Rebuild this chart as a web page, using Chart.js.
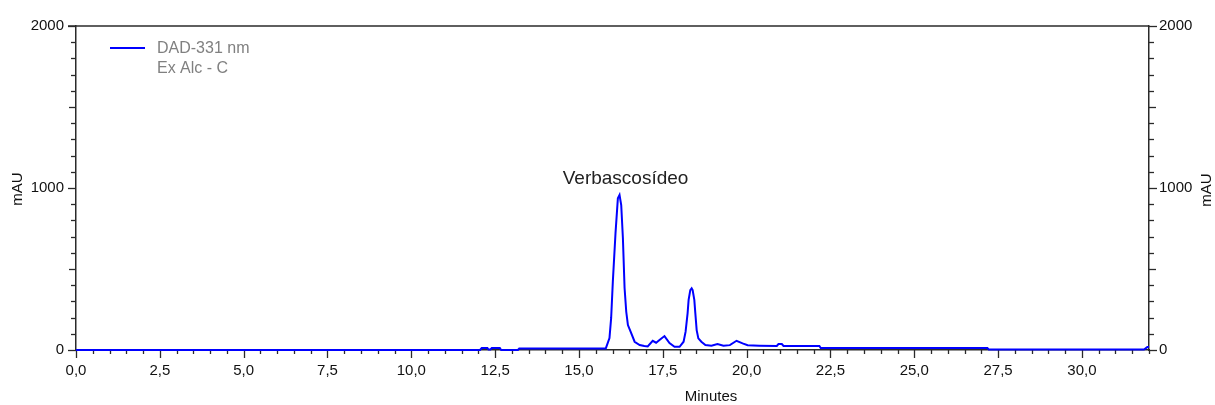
<!DOCTYPE html>
<html>
<head>
<meta charset="utf-8">
<script src="https://cdn.jsdelivr.net/npm/chart.js@4/dist/chart.umd.min.js"></script>
<style>
  html, body { margin: 0; padding: 0; background: #ffffff; }
  #c { display: block; }
</style>
</head>
<body>
<canvas id="c" width="1215" height="405"></canvas>
<script>
// ---- data ----
const times = [0, 12.05, 12.1, 12.27, 12.3, 12.36, 12.4, 12.64, 12.68, 13.18, 13.22, 15.8, 15.91, 15.96, 16.01, 16.09, 16.16, 16.21, 16.26, 16.31, 16.36, 16.41, 16.46, 16.54, 16.66, 16.81, 16.95, 17.05, 17.2, 17.3, 17.42, 17.55, 17.7, 17.85, 18.0, 18.12, 18.18, 18.24, 18.27, 18.32, 18.36, 18.39, 18.44, 18.47, 18.51, 18.56, 18.65, 18.77, 18.95, 19.13, 19.31, 19.5, 19.7, 19.88, 20.03, 20.38, 20.9, 20.95, 21.05, 21.1, 22.17, 22.21, 27.18, 27.22, 31.85, 31.95, 32];
const mAU = [0, 0, 12, 12, 3, 3, 12, 12, 0, 0, 10, 10, 74, 198, 422, 722, 936, 957, 895, 691, 383, 236, 154, 113, 51, 31, 25, 22, 57, 45, 65, 86, 43, 20, 20, 51, 113, 228, 309, 370, 381, 370, 309, 228, 123, 72, 51, 31, 27, 37, 27, 30, 57, 41, 29, 27, 25, 37, 37, 25, 25, 12, 12, 3, 3, 18, 18];
const seriesName = "DAD-331 nm";
const sampleName = "Ex Alc - C";
const peakLabel = "Verbascosídeo";
const peakTime = 16.21;
const peakValue = 957;
const xTitle = "Minutes";
const yTitle = "mAU";
const xRange = [0, 32];
const yRange = [0, 2000];
const xMajorStep = 2.5, xMinorStep = 0.5;
const yMajorStep = 1000, yMinorStep = 100;

const points = times.map((t, i) => ({ x: t, y: mAU[i] }));

const FONT = "'Liberation Sans', Arial, sans-serif";
const AXIS_COLOR = '#2a2a2a';
const TEXT_COLOR = '#111111';

function isMult(v, step) {
  const r = v / step;
  return Math.abs(r - Math.round(r)) < 1e-6;
}

const ticksPlugin = {
  id: 'tickMarks',
  beforeDatasetsDraw(chart) {
    const ctx = chart.ctx;
    const ca = chart.chartArea;
    ctx.save();
    ctx.strokeStyle = AXIS_COLOR;
    ctx.lineWidth = 1.5;
    // top frame line
    ctx.beginPath();
    ctx.moveTo(ca.left - 8, ca.top);
    ctx.lineTo(ca.right, ca.top);
    ctx.stroke();
    ctx.lineWidth = 1.3;
    // x ticks
    const xs = chart.scales.x;
    xs.ticks.forEach(t => {
      const px = Math.round(xs.getPixelForValue(t.value)) + 0.5;
      const len = isMult(t.value, xMajorStep) ? 8 : 4;
      ctx.beginPath();
      ctx.moveTo(px, ca.bottom);
      ctx.lineTo(px, ca.bottom + len);
      ctx.stroke();
    });
    // y ticks left & right
    ['y', 'y2'].forEach(id => {
      const s = chart.scales[id];
      s.ticks.forEach(t => {
        const py = Math.round(s.getPixelForValue(t.value)) + 0.5;
        const len = isMult(t.value, yMajorStep) ? 8 : (isMult(t.value, 500) ? 7 : 5);
        ctx.beginPath();
        if (id === 'y') { ctx.moveTo(ca.left - len, py); ctx.lineTo(ca.left, py); }
        else { ctx.moveTo(ca.right, py); ctx.lineTo(ca.right + len, py); }
        ctx.stroke();
      });
    });
    ctx.restore();
  }
};

const textPlugin = {
  id: 'texts',
  afterDraw(chart) {
    const ctx = chart.ctx;
    const ca = chart.chartArea;
    const xs = chart.scales.x, ys = chart.scales.y;
    ctx.save();
    // legend
    ctx.strokeStyle = '#0000ff';
    ctx.lineWidth = 2;
    ctx.beginPath();
    ctx.moveTo(ca.left + 34, ca.top + 22);
    ctx.lineTo(ca.left + 69, ca.top + 22);
    ctx.stroke();
    ctx.fillStyle = '#808080';
    ctx.font = '16px ' + FONT;
    ctx.textAlign = 'left';
    ctx.textBaseline = 'middle';
    ctx.fillText(seriesName, ca.left + 81, ca.top + 23);
    ctx.fillText(sampleName, ca.left + 81, ca.top + 43);
    // peak annotation
    ctx.fillStyle = '#222222';
    ctx.font = '19px ' + FONT;
    ctx.textAlign = 'center';
    ctx.fillText(peakLabel, xs.getPixelForValue(peakTime) + 6, ys.getPixelForValue(peakValue) - 16);
    // axis titles
    ctx.fillStyle = TEXT_COLOR;
    ctx.font = '15px ' + FONT;
    ctx.fillText(xTitle, 711, 397);
    const midY = (ca.top + ca.bottom) / 2 + 1;
    [[18, midY], [1207, midY + 1]].forEach(([x, y]) => {
      ctx.save();
      ctx.translate(x, y);
      ctx.rotate(-Math.PI / 2);
      ctx.fillText(yTitle, 0, 0);
      ctx.restore();
    });
    ctx.restore();
  }
};

const tickFont = { family: FONT, size: 15 };

new Chart(document.getElementById('c'), {
  type: 'line',
  data: {
    datasets: [{
      label: seriesName,
      data: points,
      borderColor: '#0000ff',
      borderWidth: 2,
      pointRadius: 0,
      tension: 0,
      fill: false,
      clip: 4
    }]
  },
  options: {
    responsive: false,
    animation: false,
    events: [],
    layout: { padding: { top: 26, left: 0, right: 0, bottom: 0 } },
    plugins: { legend: { display: false }, tooltip: { enabled: false } },
    scales: {
      x: {
        type: 'linear',
        min: xRange[0], max: xRange[1],
        grid: { display: false, drawTicks: false },
        border: { display: true, color: AXIS_COLOR, width: 1.5 },
        ticks: {
          stepSize: xMinorStep, autoSkip: false, maxRotation: 0, minRotation: 0,
          padding: 12, color: TEXT_COLOR, font: tickFont,
          callback: v => isMult(v, xMajorStep) ? v.toFixed(1).replace('.', ',') : ''
        },
        afterFit: s => { s.height = 55; }
      },
      y: {
        position: 'left',
        min: yRange[0], max: yRange[1],
        grid: { display: false, drawTicks: false },
        border: { display: true, color: AXIS_COLOR, width: 1.5 },
        ticks: {
          stepSize: yMinorStep, autoSkip: false, padding: 12, color: TEXT_COLOR, font: tickFont,
          callback: v => isMult(v, yMajorStep) ? String(v) : ''
        },
        afterFit: s => { s.width = 76; }
      },
      y2: {
        position: 'right',
        min: yRange[0], max: yRange[1],
        grid: { display: false, drawTicks: false },
        border: { display: true, color: AXIS_COLOR, width: 1.5 },
        ticks: {
          stepSize: yMinorStep, autoSkip: false, padding: 10, color: TEXT_COLOR, font: tickFont,
          callback: v => isMult(v, yMajorStep) ? String(v) : ''
        },
        afterFit: s => { s.width = 66; }
      }
    }
  },
  plugins: [ticksPlugin, textPlugin]
});
</script>
</body>
</html>
